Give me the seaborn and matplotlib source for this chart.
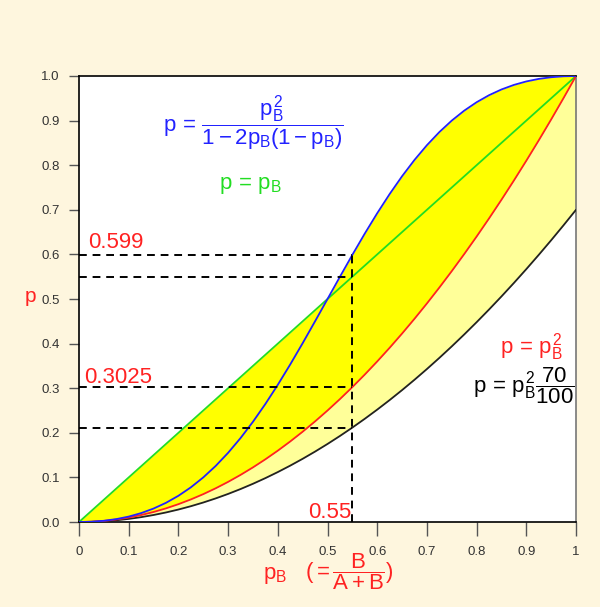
import numpy as np
import pandas as pd
import matplotlib
matplotlib.use("Agg")
import matplotlib.pyplot as plt
import seaborn as sns

# ---- data ----
p_B = [0.000, 0.025, 0.050, 0.075, 0.100, 0.125, 0.150, 0.175, 0.200, 0.225,
       0.250, 0.275, 0.300, 0.325, 0.350, 0.375, 0.400, 0.425, 0.450, 0.475,
       0.500, 0.525, 0.550, 0.575, 0.600, 0.625, 0.650, 0.675, 0.700, 0.725,
       0.750, 0.775, 0.800, 0.825, 0.850, 0.875, 0.900, 0.925, 0.950, 0.975, 1.000]
p_green = p_B[:]
p_blue = [0.0, 0.000657, 0.002762, 0.006531, 0.012195, 0.02, 0.030201, 0.043058,
          0.058824, 0.077735, 0.1, 0.12578, 0.155172, 0.188196, 0.224771,
          0.264706, 0.307692, 0.353301, 0.40099, 0.450125, 0.5, 0.549875,
          0.59901, 0.646699, 0.692308, 0.735294, 0.775229, 0.811804, 0.844828,
          0.87422, 0.9, 0.922265, 0.941176, 0.956942, 0.969799, 0.98, 0.987805,
          0.993469, 0.997238, 0.999343, 1.0]
p_red = [0.0, 0.000625, 0.0025, 0.005625, 0.01, 0.015625, 0.0225, 0.030625, 0.04,
         0.050625, 0.0625, 0.075625, 0.09, 0.105625, 0.1225, 0.140625, 0.16,
         0.180625, 0.2025, 0.225625, 0.25, 0.275625, 0.3025, 0.330625, 0.36,
         0.390625, 0.4225, 0.455625, 0.49, 0.525625, 0.5625, 0.600625, 0.64,
         0.680625, 0.7225, 0.765625, 0.81, 0.855625, 0.9025, 0.950625, 1.0]
p_black = [0.0, 0.0004375, 0.00175, 0.0039375, 0.007, 0.0109375, 0.01575,
           0.0214375, 0.028, 0.0354375, 0.04375, 0.0529375, 0.063, 0.0739375,
           0.08575, 0.0984375, 0.112, 0.1264375, 0.14175, 0.1579375, 0.175,
           0.1929375, 0.21175, 0.2314375, 0.252, 0.2734375, 0.29575, 0.3189375,
           0.343, 0.3679375, 0.39375, 0.4204375, 0.448, 0.4764375, 0.50575,
           0.5359375, 0.567, 0.5989375, 0.63175, 0.6654375, 0.7]
pB_mark = 0.55
h_levels = [0.599, 0.55, 0.3025, 0.21175]
x_ticks = [0, 0.1, 0.2, 0.3, 0.4, 0.5, 0.6, 0.7, 0.8, 0.9, 1]
x_ticklabels = ["0", "0.1", "0.2", "0.3", "0.4", "0.5", "0.6", "0.7", "0.8", "0.9", "1"]
y_ticks = [0.0, 0.1, 0.2, 0.3, 0.4, 0.5, 0.6, 0.7, 0.8, 0.9, 1.0]
y_ticklabels = ["0.0", "0.1", "0.2", "0.3", "0.4", "0.5", "0.6", "0.7", "0.8", "0.9", "1.0"]

df = pd.DataFrame({"pB": p_B, "green": p_green, "blue": p_blue,
                   "red": p_red, "black": p_black})

sns.set_style("white")
plt.rcParams["font.family"] = ["Liberation Sans", "DejaVu Sans"]
plt.rcParams["mathtext.fontset"] = "custom"
plt.rcParams["mathtext.rm"] = "Liberation Sans"
plt.rcParams["mathtext.it"] = "Liberation Sans"
plt.rcParams["mathtext.bf"] = "Liberation Sans:bold"

BG = "#FEF6DE"
GREEN = "#22DD22"
BLUE = "#2222FF"
RED = "#FF2222"

fig = plt.figure(figsize=(6.0, 6.07), dpi=100, facecolor=BG)
ax = fig.add_axes([0.1317, 0.140, 0.8283, 0.7348])
ax.set_facecolor("white")

upper = np.maximum(df["green"].values, df["blue"].values)
ax.fill_between(df["pB"], df["red"], upper, color="#FFFF00", linewidth=0, zorder=1)
ax.fill_between(df["pB"], df["black"], df["red"], color="#FFFF99", linewidth=0, zorder=1)

sns.lineplot(data=df, x="pB", y="green", color=GREEN, lw=1.3, ax=ax, zorder=3)
sns.lineplot(data=df, x="pB", y="black", color="#222222", lw=1.3, ax=ax, zorder=3)
sns.lineplot(data=df, x="pB", y="red", color=RED, lw=1.3, ax=ax, zorder=3)
sns.lineplot(data=df, x="pB", y="blue", color=BLUE, lw=1.3, ax=ax, zorder=3)

ax.hlines(h_levels, 0, pB_mark, colors="black", linestyles=(0, (4, 3)), lw=1.4, zorder=4)
ax.vlines(pB_mark, 0, h_levels[0], colors="black", linestyles=(0, (4, 3)), lw=1.4, zorder=4)

ax.set_xlim(0, 1)
ax.set_ylim(0, 1)
ax.set_xticks(x_ticks)
ax.set_xticklabels(x_ticklabels)
ax.set_yticks(y_ticks)
ax.set_yticklabels(y_ticklabels)
ax.tick_params(axis="x", length=10, width=1, color="#555555", labelcolor="#333333",
               labelsize=9.5, pad=7, direction="out", bottom=True)
ax.tick_params(axis="y", length=7, width=1, color="#555555", labelcolor="#333333",
               labelsize=9.5, pad=7, direction="out", left=True)
ax.set_xlabel("")
ax.set_ylabel("")
for s in ["left", "top", "bottom"]:
    ax.spines[s].set_color("black")
    ax.spines[s].set_linewidth(1.2)
ax.spines["right"].set_color("#777777")
ax.spines["right"].set_linewidth(1.2)

# annotations
FS = 16
ax.text(0.35, 0.895, r"$p\,=\,\dfrac{p_B^2}{1-2p_B(1-p_B)}$", color=BLUE,
        fontsize=FS, ha="center", va="center")
ax.text(0.345, 0.755, r"$p\,=\,p_B$", color=GREEN, fontsize=FS, ha="center", va="center")
ax.text(0.91, 0.392, r"$p\,=\,p_B^2$", color=RED, fontsize=FS, ha="center", va="center")
ax.text(0.895, 0.305, r"$p\,=\,p_B^2\dfrac{70}{100}$", color="black", fontsize=FS,
        ha="center", va="center")
ax.text(0.018, 0.627, "0.599", color=RED, fontsize=FS, ha="left", va="center")
ax.text(0.010, 0.325, "0.3025", color=RED, fontsize=FS, ha="left", va="center")
ax.text(0.548, 0.022, "0.55", color=RED, fontsize=FS, ha="right", va="center", zorder=5)

fig.text(0.05, 0.511, "p", color=RED, fontsize=15, ha="center", va="center")
fig.text(0.458, 0.052, r"$p_B$", color=RED, fontsize=FS, ha="center", va="center")
fig.text(0.583, 0.058, r"$(=\dfrac{B}{A+B})$", color=RED, fontsize=FS,
         ha="center", va="center")

fig.savefig("out.png", dpi=100, facecolor=BG)
